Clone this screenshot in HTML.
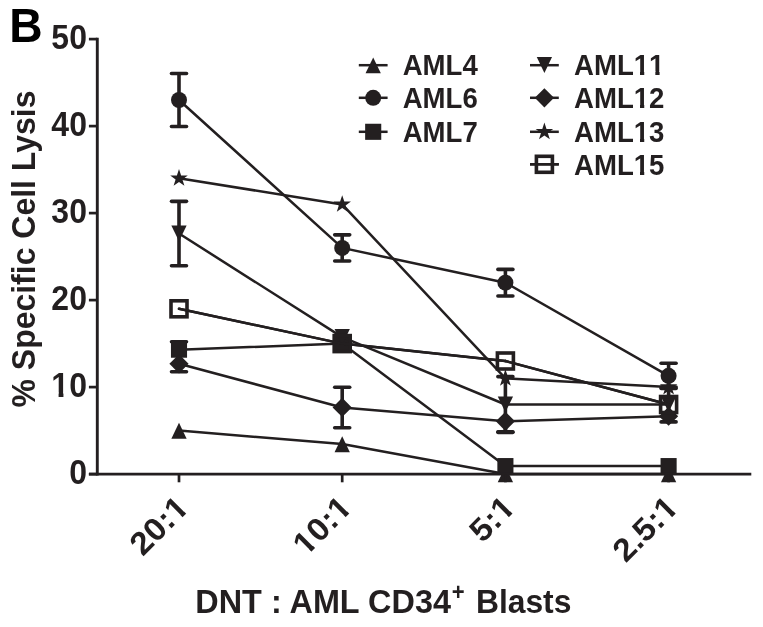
<!DOCTYPE html>
<html><head><meta charset="utf-8"><title>B</title>
<style>
html,body{margin:0;padding:0;background:#fff;}
body{width:763px;height:627px;overflow:hidden;}
svg{display:block;will-change:transform;filter:blur(0.45px);}
text{font-family:"Liberation Sans",sans-serif;font-weight:bold;}
</style></head><body>
<svg width="763" height="627" viewBox="0 0 763 627">
<rect width="763" height="627" fill="#fff"/>
<defs><clipPath id="c0"><path d="M-500,-200H500V-4.62H-500ZM-500.00,-5.12H-39.84V200H-500.00ZM-31.45,-5.12H-26.08V200H-31.45ZM-19.39,-5.12H500V200H-19.39Z"/></clipPath><clipPath id="c1"><path d="M-500,-200H500V-4.27H-500ZM-500.00,-4.77H-18.12V200H-500.00ZM-10.58,-4.77H-5.69V200H-10.58ZM0.32,-4.77H500V200H0.32Z"/></clipPath><clipPath id="c2"><path d="M-500,-200H500V-4.27H-500ZM-500.00,-4.77H-64.37V200H-500.00ZM-56.83,-4.77H-51.94V200H-56.83ZM-45.93,-4.77H-18.12V200H-45.93ZM-10.58,-4.77H-5.69V200H-10.58ZM0.32,-4.77H500V200H0.32Z"/></clipPath><clipPath id="c3"><path d="M-500,-200H500V-4.27H-500ZM-500.00,-4.77H-18.12V200H-500.00ZM-10.58,-4.77H-5.69V200H-10.58ZM0.32,-4.77H500V200H0.32Z"/></clipPath><clipPath id="c4"><path d="M-500,-200H500V-4.27H-500ZM-500.00,-4.77H-18.12V200H-500.00ZM-10.58,-4.77H-5.69V200H-10.58ZM0.32,-4.77H500V200H0.32Z"/></clipPath><clipPath id="c5"><path d="M-500,-200H500V-4.06H-500ZM-500.00,-4.56H64.68V200H-500.00ZM71.73,-4.56H76.35V200H71.73ZM88.42,-4.56H93.03V200H88.42ZM98.65,-4.56H500V200H98.65Z"/></clipPath><clipPath id="c6"><path d="M-500,-200H500V-4.06H-500ZM-500.00,-4.56H64.68V200H-500.00ZM71.73,-4.56H76.35V200H71.73ZM81.97,-4.56H500V200H81.97Z"/></clipPath><clipPath id="c7"><path d="M-500,-200H500V-4.06H-500ZM-500.00,-4.56H64.68V200H-500.00ZM71.73,-4.56H76.35V200H71.73ZM81.97,-4.56H500V200H81.97Z"/></clipPath><clipPath id="c8"><path d="M-500,-200H500V-4.06H-500ZM-500.00,-4.56H64.68V200H-500.00ZM71.73,-4.56H76.35V200H71.73ZM81.97,-4.56H500V200H81.97Z"/></clipPath></defs>
<!-- AML4 -->
<line x1="179.00" y1="430.60" x2="342.20" y2="444.09" stroke="#231f20" stroke-width="2.5" stroke-linecap="round"/>
<line x1="342.20" y1="444.09" x2="505.40" y2="474.10" stroke="#231f20" stroke-width="2.5" stroke-linecap="round"/>
<line x1="505.40" y1="474.10" x2="668.60" y2="474.10" stroke="#231f20" stroke-width="2.5" stroke-linecap="round"/>
<polygon points="179.00,422.80 186.65,438.70 171.35,438.70" fill="#231f20"/>
<polygon points="342.20,436.29 349.85,452.19 334.55,452.19" fill="#231f20"/>
<polygon points="505.40,466.30 513.05,482.20 497.75,482.20" fill="#231f20"/>
<polygon points="668.60,466.30 676.25,482.20 660.95,482.20" fill="#231f20"/>
<!-- AML6 -->
<line x1="179.00" y1="73.47" x2="179.00" y2="126.54" stroke="#231f20" stroke-width="3.6" stroke-linecap="butt"/>
<line x1="171.50" y1="73.47" x2="186.50" y2="73.47" stroke="#231f20" stroke-width="3.6" stroke-linecap="round"/>
<line x1="171.50" y1="126.54" x2="186.50" y2="126.54" stroke="#231f20" stroke-width="3.6" stroke-linecap="round"/>
<line x1="342.20" y1="234.85" x2="342.20" y2="260.95" stroke="#231f20" stroke-width="3.6" stroke-linecap="butt"/>
<line x1="334.70" y1="234.85" x2="349.70" y2="234.85" stroke="#231f20" stroke-width="3.6" stroke-linecap="round"/>
<line x1="334.70" y1="260.95" x2="349.70" y2="260.95" stroke="#231f20" stroke-width="3.6" stroke-linecap="round"/>
<line x1="505.40" y1="269.39" x2="505.40" y2="296.01" stroke="#231f20" stroke-width="3.6" stroke-linecap="butt"/>
<line x1="497.90" y1="269.39" x2="512.90" y2="269.39" stroke="#231f20" stroke-width="3.6" stroke-linecap="round"/>
<line x1="497.90" y1="296.01" x2="512.90" y2="296.01" stroke="#231f20" stroke-width="3.6" stroke-linecap="round"/>
<line x1="668.60" y1="363.18" x2="668.60" y2="388.41" stroke="#231f20" stroke-width="3.6" stroke-linecap="butt"/>
<line x1="661.10" y1="363.18" x2="676.10" y2="363.18" stroke="#231f20" stroke-width="3.6" stroke-linecap="round"/>
<line x1="661.10" y1="388.41" x2="676.10" y2="388.41" stroke="#231f20" stroke-width="3.6" stroke-linecap="round"/>
<line x1="179.00" y1="100.00" x2="342.20" y2="247.90" stroke="#231f20" stroke-width="2.5" stroke-linecap="round"/>
<line x1="342.20" y1="247.90" x2="505.40" y2="282.70" stroke="#231f20" stroke-width="2.5" stroke-linecap="round"/>
<line x1="505.40" y1="282.70" x2="668.60" y2="375.79" stroke="#231f20" stroke-width="2.5" stroke-linecap="round"/>
<circle cx="179.00" cy="100.00" r="8.0" fill="#231f20"/>
<circle cx="342.20" cy="247.90" r="8.0" fill="#231f20"/>
<circle cx="505.40" cy="282.70" r="8.0" fill="#231f20"/>
<circle cx="668.60" cy="375.79" r="8.0" fill="#231f20"/>
<!-- AML7 -->
<line x1="179.00" y1="341.69" x2="179.00" y2="349.69" stroke="#231f20" stroke-width="3.6" stroke-linecap="butt"/>
<line x1="171.50" y1="341.69" x2="186.50" y2="341.69" stroke="#231f20" stroke-width="3.6" stroke-linecap="round"/>
<line x1="179.00" y1="349.69" x2="342.20" y2="343.60" stroke="#231f20" stroke-width="2.5" stroke-linecap="round"/>
<line x1="342.20" y1="343.60" x2="505.40" y2="466.10" stroke="#231f20" stroke-width="2.5" stroke-linecap="round"/>
<line x1="505.40" y1="466.10" x2="668.60" y2="466.10" stroke="#231f20" stroke-width="2.5" stroke-linecap="round"/>
<rect x="170.95" y="341.64" width="16.1" height="16.1" fill="#231f20"/>
<rect x="334.15" y="335.55" width="16.1" height="16.1" fill="#231f20"/>
<rect x="497.35" y="458.05" width="16.1" height="16.1" fill="#231f20"/>
<rect x="660.55" y="458.05" width="16.1" height="16.1" fill="#231f20"/>
<!-- AML11 -->
<line x1="179.00" y1="201.36" x2="179.00" y2="265.74" stroke="#231f20" stroke-width="3.6" stroke-linecap="butt"/>
<line x1="171.50" y1="201.36" x2="186.50" y2="201.36" stroke="#231f20" stroke-width="3.6" stroke-linecap="round"/>
<line x1="171.50" y1="265.74" x2="186.50" y2="265.74" stroke="#231f20" stroke-width="3.6" stroke-linecap="round"/>
<line x1="505.40" y1="376.66" x2="505.40" y2="432.34" stroke="#231f20" stroke-width="3.6" stroke-linecap="butt"/>
<line x1="497.90" y1="376.66" x2="512.90" y2="376.66" stroke="#231f20" stroke-width="3.6" stroke-linecap="round"/>
<line x1="497.90" y1="432.34" x2="512.90" y2="432.34" stroke="#231f20" stroke-width="3.6" stroke-linecap="round"/>
<line x1="668.60" y1="387.10" x2="668.60" y2="421.90" stroke="#231f20" stroke-width="3.6" stroke-linecap="butt"/>
<line x1="661.10" y1="387.10" x2="676.10" y2="387.10" stroke="#231f20" stroke-width="3.6" stroke-linecap="round"/>
<line x1="661.10" y1="421.90" x2="676.10" y2="421.90" stroke="#231f20" stroke-width="3.6" stroke-linecap="round"/>
<line x1="179.00" y1="233.55" x2="342.20" y2="337.08" stroke="#231f20" stroke-width="2.5" stroke-linecap="round"/>
<line x1="342.20" y1="337.08" x2="505.40" y2="404.50" stroke="#231f20" stroke-width="2.5" stroke-linecap="round"/>
<line x1="505.40" y1="404.50" x2="668.60" y2="404.50" stroke="#231f20" stroke-width="2.5" stroke-linecap="round"/>
<polygon points="179.00,241.35 186.65,225.45 171.35,225.45" fill="#231f20"/>
<polygon points="342.20,344.88 349.85,328.98 334.55,328.98" fill="#231f20"/>
<polygon points="505.40,412.30 513.05,396.40 497.75,396.40" fill="#231f20"/>
<polygon points="668.60,412.30 676.25,396.40 660.95,396.40" fill="#231f20"/>
<!-- AML12 -->
<line x1="179.00" y1="363.78" x2="179.00" y2="371.79" stroke="#231f20" stroke-width="3.6" stroke-linecap="butt"/>
<line x1="171.50" y1="371.79" x2="186.50" y2="371.79" stroke="#231f20" stroke-width="3.6" stroke-linecap="round"/>
<line x1="342.20" y1="387.19" x2="342.20" y2="427.73" stroke="#231f20" stroke-width="3.6" stroke-linecap="butt"/>
<line x1="334.70" y1="387.19" x2="349.70" y2="387.19" stroke="#231f20" stroke-width="3.6" stroke-linecap="round"/>
<line x1="334.70" y1="427.73" x2="349.70" y2="427.73" stroke="#231f20" stroke-width="3.6" stroke-linecap="round"/>
<line x1="505.40" y1="421.29" x2="505.40" y2="431.91" stroke="#231f20" stroke-width="3.6" stroke-linecap="butt"/>
<line x1="497.90" y1="431.91" x2="512.90" y2="431.91" stroke="#231f20" stroke-width="3.6" stroke-linecap="round"/>
<line x1="179.00" y1="363.78" x2="342.20" y2="407.46" stroke="#231f20" stroke-width="2.5" stroke-linecap="round"/>
<line x1="342.20" y1="407.46" x2="505.40" y2="421.29" stroke="#231f20" stroke-width="2.5" stroke-linecap="round"/>
<line x1="505.40" y1="421.29" x2="668.60" y2="416.25" stroke="#231f20" stroke-width="2.5" stroke-linecap="round"/>
<polygon points="179.00,354.18 188.60,363.78 179.00,373.38 169.40,363.78" fill="#231f20"/>
<polygon points="342.20,397.86 351.80,407.46 342.20,417.06 332.60,407.46" fill="#231f20"/>
<polygon points="505.40,411.69 515.00,421.29 505.40,430.89 495.80,421.29" fill="#231f20"/>
<polygon points="668.60,406.64 678.20,416.25 668.60,425.85 659.00,416.25" fill="#231f20"/>
<!-- AML13 -->
<line x1="179.00" y1="178.30" x2="342.20" y2="204.40" stroke="#231f20" stroke-width="2.5" stroke-linecap="round"/>
<line x1="342.20" y1="204.40" x2="505.40" y2="378.40" stroke="#231f20" stroke-width="2.5" stroke-linecap="round"/>
<line x1="505.40" y1="378.40" x2="668.60" y2="387.10" stroke="#231f20" stroke-width="2.5" stroke-linecap="round"/>
<polygon points="179.00,169.10 181.11,175.40 187.75,175.46 182.41,179.41 184.41,185.74 179.00,181.89 173.59,185.74 175.59,179.41 170.25,175.46 176.89,175.40" fill="#231f20"/>
<polygon points="342.20,195.20 344.31,201.50 350.95,201.56 345.61,205.51 347.61,211.84 342.20,207.99 336.79,211.84 338.79,205.51 333.45,201.56 340.09,201.50" fill="#231f20"/>
<polygon points="505.40,369.20 507.51,375.50 514.15,375.56 508.81,379.51 510.81,385.84 505.40,381.99 499.99,385.84 501.99,379.51 496.65,375.56 503.29,375.50" fill="#231f20"/>
<polygon points="668.60,377.90 670.71,384.20 677.35,384.26 672.01,388.21 674.01,394.54 668.60,390.69 663.19,394.54 665.19,388.21 659.85,384.26 666.49,384.20" fill="#231f20"/>
<!-- AML15 -->
<line x1="179.00" y1="308.80" x2="342.20" y2="343.60" stroke="#231f20" stroke-width="2.5" stroke-linecap="round"/>
<line x1="342.20" y1="343.60" x2="505.40" y2="361.00" stroke="#231f20" stroke-width="2.5" stroke-linecap="round"/>
<line x1="505.40" y1="361.00" x2="668.60" y2="404.50" stroke="#231f20" stroke-width="2.5" stroke-linecap="round"/>
<rect x="171.00" y="300.80" width="16.0" height="16.0" fill="none" stroke="#231f20" stroke-width="3.6"/>
<rect x="334.20" y="335.60" width="16.0" height="16.0" fill="none" stroke="#231f20" stroke-width="3.6"/>
<rect x="497.40" y="353.00" width="16.0" height="16.0" fill="none" stroke="#231f20" stroke-width="3.6"/>
<rect x="660.60" y="396.50" width="16.0" height="16.0" fill="none" stroke="#231f20" stroke-width="3.6"/>
<line x1="179.00" y1="308.80" x2="342.20" y2="343.60" stroke="#231f20" stroke-width="2.5" stroke-linecap="round"/>
<line x1="342.20" y1="343.60" x2="505.40" y2="361.00" stroke="#231f20" stroke-width="2.5" stroke-linecap="round"/>
<line x1="505.40" y1="361.00" x2="668.60" y2="404.50" stroke="#231f20" stroke-width="2.5" stroke-linecap="round"/>
<line x1="97.30" y1="37.75" x2="97.30" y2="475.55" stroke="#231f20" stroke-width="2.9" stroke-linecap="butt"/>
<line x1="88.90" y1="474.10" x2="751.30" y2="474.10" stroke="#231f20" stroke-width="2.9" stroke-linecap="butt"/>
<line x1="88.90" y1="474.10" x2="97.30" y2="474.10" stroke="#231f20" stroke-width="2.7" stroke-linecap="butt"/>
<line x1="88.90" y1="387.10" x2="97.30" y2="387.10" stroke="#231f20" stroke-width="2.7" stroke-linecap="butt"/>
<line x1="88.90" y1="300.10" x2="97.30" y2="300.10" stroke="#231f20" stroke-width="2.7" stroke-linecap="butt"/>
<line x1="88.90" y1="213.10" x2="97.30" y2="213.10" stroke="#231f20" stroke-width="2.7" stroke-linecap="butt"/>
<line x1="88.90" y1="126.10" x2="97.30" y2="126.10" stroke="#231f20" stroke-width="2.7" stroke-linecap="butt"/>
<line x1="88.90" y1="39.10" x2="97.30" y2="39.10" stroke="#231f20" stroke-width="2.7" stroke-linecap="butt"/>
<line x1="179.00" y1="474.10" x2="179.00" y2="482.30" stroke="#231f20" stroke-width="2.7" stroke-linecap="butt"/>
<line x1="342.20" y1="474.10" x2="342.20" y2="482.30" stroke="#231f20" stroke-width="2.7" stroke-linecap="butt"/>
<line x1="505.40" y1="474.10" x2="505.40" y2="482.30" stroke="#231f20" stroke-width="2.7" stroke-linecap="butt"/>
<line x1="668.60" y1="474.10" x2="668.60" y2="482.30" stroke="#231f20" stroke-width="2.7" stroke-linecap="butt"/>
<line x1="358.80" y1="65.20" x2="387.60" y2="65.20" stroke="#231f20" stroke-width="2.5" stroke-linecap="butt"/>
<polygon points="373.20,57.40 380.85,73.30 365.55,73.30" fill="#231f20"/>
<line x1="358.80" y1="97.80" x2="387.60" y2="97.80" stroke="#231f20" stroke-width="2.5" stroke-linecap="butt"/>
<circle cx="373.20" cy="97.80" r="8.0" fill="#231f20"/>
<line x1="358.80" y1="131.80" x2="387.60" y2="131.80" stroke="#231f20" stroke-width="2.5" stroke-linecap="butt"/>
<rect x="365.15" y="123.75" width="16.1" height="16.1" fill="#231f20"/>
<line x1="530.00" y1="65.20" x2="558.80" y2="65.20" stroke="#231f20" stroke-width="2.5" stroke-linecap="butt"/>
<polygon points="544.40,73.00 552.05,57.10 536.75,57.10" fill="#231f20"/>
<line x1="530.00" y1="97.80" x2="558.80" y2="97.80" stroke="#231f20" stroke-width="2.5" stroke-linecap="butt"/>
<polygon points="544.40,88.20 554.00,97.80 544.40,107.40 534.80,97.80" fill="#231f20"/>
<line x1="530.00" y1="131.80" x2="558.80" y2="131.80" stroke="#231f20" stroke-width="2.5" stroke-linecap="butt"/>
<polygon points="544.40,122.60 546.51,128.90 553.15,128.96 547.81,132.91 549.81,139.24 544.40,135.39 538.99,139.24 540.99,132.91 535.65,128.96 542.29,128.90" fill="#231f20"/>
<line x1="530.00" y1="164.30" x2="558.80" y2="164.30" stroke="#231f20" stroke-width="2.5" stroke-linecap="butt"/>
<rect x="536.40" y="156.30" width="16.0" height="16.0" fill="none" stroke="#231f20" stroke-width="3.6"/>
<line x1="530.00" y1="164.30" x2="558.80" y2="164.30" stroke="#231f20" stroke-width="2.5" stroke-linecap="butt"/>
<text transform="translate(86.90,484.10) rotate(0) scale(0.9,1)" font-size="35.5" text-anchor="end" fill="#231f20">0</text>
<text transform="translate(86.90,397.10) rotate(0) scale(0.9,1)" font-size="35.5" text-anchor="end" fill="#231f20" clip-path="url(#c0)">10</text>
<text transform="translate(86.90,310.10) rotate(0) scale(0.9,1)" font-size="35.5" text-anchor="end" fill="#231f20">20</text>
<text transform="translate(86.90,223.10) rotate(0) scale(0.9,1)" font-size="35.5" text-anchor="end" fill="#231f20">30</text>
<text transform="translate(86.90,136.10) rotate(0) scale(0.9,1)" font-size="35.5" text-anchor="end" fill="#231f20">40</text>
<text transform="translate(86.90,49.10) rotate(0) scale(0.9,1)" font-size="35.5" text-anchor="end" fill="#231f20">50</text>
<text transform="translate(190.35,509.35) rotate(-45) scale(1.05,1)" font-size="32" text-anchor="end" fill="#231f20" clip-path="url(#c1)">20:1</text>
<text transform="translate(353.55,509.35) rotate(-45) scale(1.05,1)" font-size="32" text-anchor="end" fill="#231f20" clip-path="url(#c2)">10:1</text>
<text transform="translate(516.75,509.35) rotate(-45) scale(1.05,1)" font-size="32" text-anchor="end" fill="#231f20" clip-path="url(#c3)">5:1</text>
<text transform="translate(679.95,509.35) rotate(-45) scale(1.05,1)" font-size="32" text-anchor="end" fill="#231f20" clip-path="url(#c4)">2.5:1</text>
<text transform="translate(195.30,613.20) rotate(0) scale(0.9534117647058823,1)" font-size="34" text-anchor="start" fill="#231f20">DNT : AML CD34</text>
<text transform="translate(451.82,599.50) rotate(0) scale(0.9,1)" font-size="24.5" text-anchor="start" fill="#231f20">+</text>
<text transform="translate(475.90,613.20) rotate(0) scale(0.9364705882352942,1)" font-size="34" text-anchor="start" fill="#231f20">Blasts</text>
<text transform="translate(35.40,407.50) rotate(-90) scale(0.9840839172127763,1)" font-size="32.5" text-anchor="start" fill="#231f20">% Specific Cell Lysis</text>
<text transform="translate(9.20,42.20) rotate(0) scale(0.951,1)" font-size="48.6" text-anchor="start" fill="#000">B</text>
<text transform="translate(402.70,75.30) rotate(0) scale(0.92,1)" font-size="30" text-anchor="start" fill="#231f20" style="font-kerning:none">AML4</text>
<text transform="translate(402.70,108.00) rotate(0) scale(0.92,1)" font-size="30" text-anchor="start" fill="#231f20" style="font-kerning:none">AML6</text>
<text transform="translate(402.70,141.80) rotate(0) scale(0.92,1)" font-size="30" text-anchor="start" fill="#231f20" style="font-kerning:none">AML7</text>
<text transform="translate(574.00,75.30) rotate(0) scale(0.92,1)" font-size="30" text-anchor="start" fill="#231f20" clip-path="url(#c5)" style="font-kerning:none">AML11</text>
<text transform="translate(574.00,108.00) rotate(0) scale(0.92,1)" font-size="30" text-anchor="start" fill="#231f20" clip-path="url(#c6)" style="font-kerning:none">AML12</text>
<text transform="translate(574.00,141.80) rotate(0) scale(0.92,1)" font-size="30" text-anchor="start" fill="#231f20" clip-path="url(#c7)" style="font-kerning:none">AML13</text>
<text transform="translate(574.00,174.90) rotate(0) scale(0.92,1)" font-size="30" text-anchor="start" fill="#231f20" clip-path="url(#c8)" style="font-kerning:none">AML15</text>
</svg>
</body></html>
